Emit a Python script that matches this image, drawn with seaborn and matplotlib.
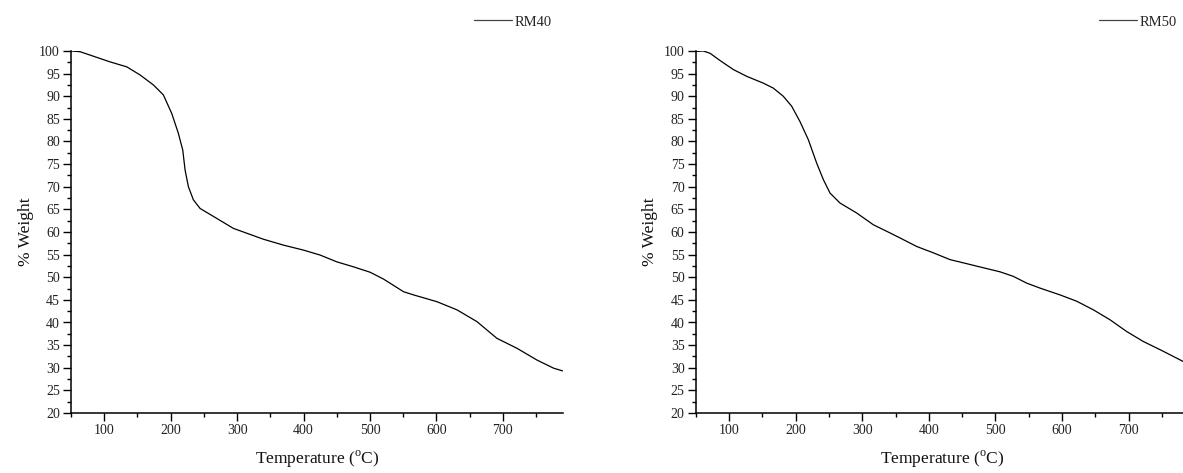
import numpy as np
import pandas as pd
import matplotlib
matplotlib.use("Agg")
import matplotlib.pyplot as plt
import seaborn as sns

# TGA curves
temp_rm40 = [50, 63.5, 78.6, 108.7, 133.9, 154, 174, 189, 201.6, 211.6, 218.2, 221.7,
             226.7, 234.2, 244.3, 269.4, 294.4, 339.6, 369.8, 399.8, 425, 450.1, 475.2,
             500.3, 520.3, 550.5, 565.5, 600.7, 630.8, 660.9, 691, 721.2, 751.3, 776.4, 790]
weight_rm40 = [100, 99.85, 99.1, 97.6, 96.5, 94.7, 92.5, 90.3, 86.2, 81.8, 78.1, 73.7,
               70, 67.1, 65.2, 63, 60.8, 58.4, 57.1, 56.0, 54.9, 53.4, 52.3,
               51.1, 49.6, 46.8, 46.1, 44.6, 42.8, 40.2, 36.5, 34.3, 31.7, 29.9, 29.3]

temp_rm50 = [50, 61.4, 71.5, 86.5, 106.5, 126.6, 151.5, 166.5, 181.5, 194.1, 206.6, 219.1,
             231.7, 241.6, 251.7, 266.7, 291.7, 316.7, 341.7, 359.3, 381.8, 406.8, 431.8,
             456.9, 481.8, 506.9, 526.9, 547, 567, 597, 622.1, 647.1, 672.1, 697.2, 722.1,
             747.2, 767.2, 781.8, 790]
weight_rm50 = [99.9, 100, 99.5, 97.9, 95.9, 94.4, 92.9, 91.8, 90, 87.8, 84.4, 80.4,
               75.2, 71.6, 68.6, 66.4, 64.2, 61.6, 59.8, 58.5, 56.8, 55.4, 53.9,
               53, 52.1, 51.2, 50.2, 48.7, 47.6, 46.1, 44.7, 42.8, 40.6, 38.0, 35.8,
               34.0, 32.5, 31.4, 30.8]

samples = ["RM40", "RM50"]
x_ticks = [100, 200, 300, 400, 500, 600, 700]
y_ticks = list(range(20, 101, 5))

sns.set_theme(style="ticks")
plt.rcParams['font.family'] = ['Liberation Serif', 'DejaVu Serif']
plt.rcParams['mathtext.fontset'] = 'custom'
plt.rcParams['mathtext.rm'] = 'Liberation Serif'

W, H = 1183, 473
fig = plt.figure(figsize=(W / 100, H / 100), dpi=100)

panels = [
    (samples[0], temp_rm40, weight_rm40, 71, 562.7, 474),
    (samples[1], temp_rm50, weight_rm50, 695.7, 695.7 + 740 * 0.666, 1099),
]

for name, xs, ys, x0, x1, leg_x in panels:
    ax = fig.add_axes([x0 / W, 1 - 413 / H, (x1 - x0) / W, (413 - 51) / H])
    df = pd.DataFrame({"Temperature": xs, "Weight": ys, "Sample": name})
    sns.lineplot(data=df, x="Temperature", y="Weight", ax=ax, color="black",
                 linewidth=0.9, label=name, legend=False)
    ax.set_xlim(50, 790)
    ax.set_ylim(20, 100)
    ax.set_xticks(x_ticks)
    ax.set_xticks(list(range(50, 800, 50)), minor=True)
    ax.set_yticks(y_ticks)
    ax.set_yticks(list(np.arange(22.5, 100, 5)), minor=True)
    ax.tick_params(which="major", length=5.5, width=1.0, labelsize=10, color="black",
                   labelcolor="#222222", pad=2.5)
    ax.tick_params(which="minor", length=3, width=1.0, color="black")
    for s in ["top", "right"]:
        ax.spines[s].set_visible(False)
    for s in ["left", "bottom"]:
        ax.spines[s].set_linewidth(1.1)
        ax.spines[s].set_color("black")
    ax.set_xlabel(r"Temperature ($^{\mathrm{o}}$C)", fontsize=12.5, labelpad=8, color="#111111")
    ax.set_ylabel("% Weight", fontsize=12.5, labelpad=4, color="#111111")
    ax.set_facecolor("none")
    leg = ax.legend(loc="center left", bbox_to_anchor=(leg_x / W, 1 - 22 / H),
                    bbox_transform=fig.transFigure, frameon=False, fontsize=10.5,
                    handlelength=2.6, handletextpad=0.2, borderpad=0, borderaxespad=0)
    for line in leg.get_lines():
        line.set_color("#444444")
        line.set_linewidth(0.9)

fig.savefig("out.png", dpi=100)
